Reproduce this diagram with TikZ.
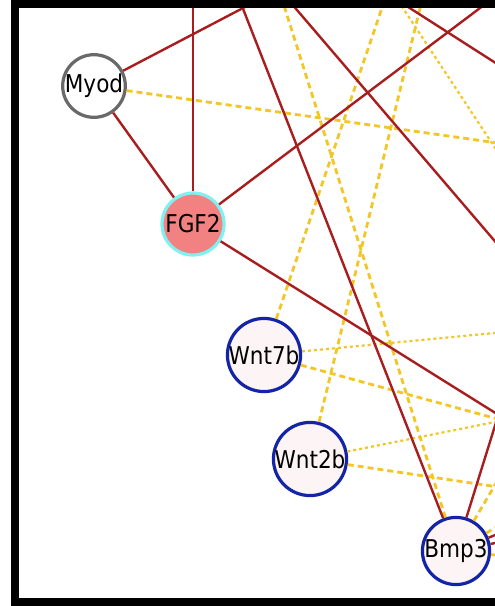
\documentclass[tikz,border=0pt]{standalone}
\usepackage{fontspec}
\setmainfont{DejaVu Sans}[FakeStretch=0.88]
\usetikzlibrary{positioning,calc}
\definecolor{inhib}{RGB}{168,30,30}
\definecolor{assoc}{RGB}{243,198,40}
\definecolor{wntblue}{RGB}{20,36,168}
\definecolor{paleroseF}{RGB}{253,245,245}
\definecolor{fgfpink}{RGB}{242,130,130}
\definecolor{fgfcyan}{RGB}{128,240,240}

\begin{document}
\begin{tikzpicture}[x=1pt, y=-1pt,
        gene/.style={circle, minimum size=62pt, inner sep=0pt, line width=3.2pt,
            font=\fontsize{24.5}{27}\selectfont},
        target/.style={gene, draw=wntblue, fill=paleroseF},
        redge/.style={draw=inhib, line width=2.4pt},
        yedge/.style={draw=assoc, line width=2.8pt, dash pattern=on 6pt off 4pt},
        yfine/.style={draw=assoc, line width=2.2pt, dash pattern=on 3pt off 3pt}]
    \useasboundingbox (0,0) rectangle (495,606);
    \fill[black] (11,0) rectangle (500,606);
    \fill[white] (19,8) rectangle (500,598);

    \node[gene, draw={rgb,255:red,105;green,105;blue,105}, fill=white] (Myod) at (94,86) {Myod};
    \node[gene, draw=fgfcyan, fill=fgfpink] (FGF2) at (193,224) {FGF2};
    \node[target] (Wnt7b) at (264,355) {Wnt7b};
    \node[target] (Wnt2b) at (310,459) {Wnt2b};
    \node[target] (Bmp3) at (456,551) {Bmp3};

    % neighbours outside the crop
    \coordinate (o1) at (266,-4);
    \coordinate (o2) at (193,-4);
    \coordinate (o3) at (238,-4);
    \coordinate (o4) at (496,-4);
    \coordinate (o5a) at (285,-4);
    \coordinate (o5b) at (505,253);
    \coordinate (o6a) at (391,-4);
    \coordinate (o6b) at (505,69);
    \coordinate (o7) at (505,419);
    \coordinate (o8) at (503,400);
    \coordinate (o9) at (505,468);
    \coordinate (o10) at (505,522);
    \coordinate (o11) at (505,531);
    \coordinate (o12) at (505,541);
    \coordinate (o13) at (505,556);
    \coordinate (o14) at (505,144);
    \coordinate (o15) at (281,-4);
    \coordinate (o16) at (386,-4);
    \coordinate (o17) at (423,-4);
    \coordinate (o18a) at (395,-4);
    \coordinate (o18b) at (505,163);
    \coordinate (o19) at (505,332);
    \coordinate (o20) at (505,421);
    \coordinate (o21) at (505,420);
    \coordinate (o22) at (505,488);

    \begin{scope}
        \clip (19,8) rectangle (495,598);
        \path[yedge] (Myod) -- (o14);
        \path[yfine] (o18a) -- (o18b);
        \path[yedge] (Bmp3) -- (o15);
        \path[yedge] (Wnt7b) -- (o16);
        \path[yedge] (Wnt2b) -- (o17);
        \path[yfine] (Wnt7b) -- (o19);
        \path[yedge] (Wnt7b) -- (o20);
        \path[yfine] (Wnt2b) -- (o21);
        \path[yedge] (Wnt2b) -- (o22);
        \path[yedge] (Bmp3) -- (o9);
        \path[yedge] (Bmp3) -- (o10);
        \path[yedge] (Bmp3) -- (o13);
        \path[redge] (Myod) -- (o1);
        \path[redge] (FGF2) -- (o2);
        \path[redge] (Myod) -- (FGF2);
        \path[redge] (Bmp3) -- (o3);
        \path[redge] (FGF2) -- (o4);
        \path[redge] (o5a) -- (o5b);
        \path[redge] (o6a) -- (o6b);
        \path[redge] (FGF2) -- (o7);
        \path[redge] (Bmp3) -- (o8);
        \path[redge] (Bmp3) -- (o11);
        \path[redge] (Bmp3) -- (o12);
    \end{scope}
\end{tikzpicture}
\end{document}
